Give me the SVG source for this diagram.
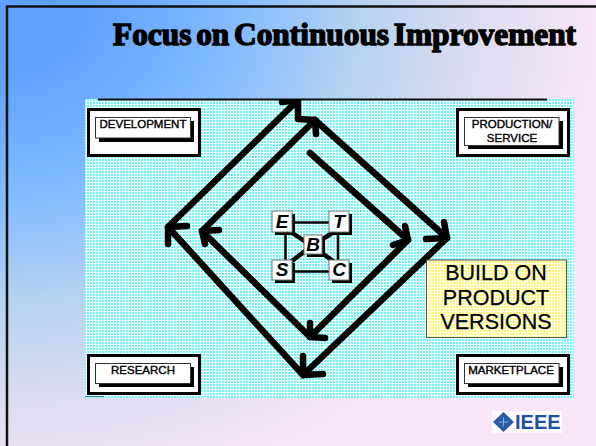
<svg xmlns="http://www.w3.org/2000/svg" width="596" height="446" viewBox="0 0 596 446">
<style>
text{font-family:"Liberation Sans",Arial,sans-serif;fill:#000}
.lab{font-size:11.5px;text-anchor:middle;stroke:#000;stroke-width:.4}
.let{font-size:19px;font-weight:bold;font-style:italic;text-anchor:middle}
.big{font-size:21.5px;text-anchor:middle;stroke:#000;stroke-width:.25}
.o{fill:#fff;stroke:#000;stroke-width:3}
.i{fill:#fff;stroke:#333;stroke-width:1}
.arrow{fill:none;stroke:#000;stroke-width:6.500;stroke-linecap:round;stroke-linejoin:round}
.thin{fill:none;stroke:#000;stroke-width:2.500}
.tk{fill:none;stroke:#000;stroke-width:4.500}
.sq{fill:#fff;stroke:#777;stroke-width:1}
</style>
<defs>
<radialGradient id="bg" gradientUnits="userSpaceOnUse" cx="0" cy="0" r="596" gradientTransform="scale(1 .84)">
<stop offset="0" stop-color="#5f9fff"/><stop offset=".15" stop-color="#62a2ff"/><stop offset=".4" stop-color="#84bcff"/><stop offset=".6" stop-color="#b5d2f0"/><stop offset=".8" stop-color="#dcdcf0"/><stop offset="1" stop-color="#f8e6f8"/>
</radialGradient>
<pattern id="grid" width="3" height="3" patternUnits="userSpaceOnUse">
<rect width="3" height="3" fill="#f0ffff"/><rect width="2" height="2" fill="#70f4f4"/>
</pattern>
<pattern id="ygrid" width="3" height="3" patternUnits="userSpaceOnUse">
<rect width="3" height="3" fill="#ffffe8"/><rect width="2" height="2" fill="#fff47a"/>
</pattern>
<clipPath id="panel"><rect x="85" y="99" width="489" height="299"/></clipPath>
</defs>
<rect width="596" height="446" fill="url(#bg)"/>
<path d="M7 446V6.500H596" fill="none" stroke="#111" stroke-width="2.500"/>
<text x="113" y="45" font-size="31" font-weight="bold" word-spacing="-3" textLength="463" lengthAdjust="spacingAndGlyphs" style="font-family:'Liberation Serif',serif;stroke:#000;stroke-width:1.400">Focus on Continuous Improvement</text>
<rect x="85" y="99" width="489" height="299" fill="url(#grid)"/>
<path d="M98 99.500H547" stroke="#111" stroke-width="2"/>
<path d="M85 396.500H104" stroke="#2a7a8a" stroke-width="1"/>
<g id="connectors">
<g clip-path="url(#panel)">
<path class="arrow" d="M310 153L408 240L310 337L202 231L315 120M447 238L315 120M447 238L303 375L168 227L298 100"/>
<path class="arrow" d="M282 102L298 100L298 119L315 120L316 134M393 245L408 240L405 226M325 338L310 337L310 323M219 230L202 231L205 244M426 239L447 238L444 222M323 374L303 375L303 356M187 226L168 227L168 244"/>
</g>
</g>
<g id="hub">
<path class="thin" d="M282 222.500H340M282 271.500H340M285.500 222V271M338 222V271"/>
<path class="tk" d="M285 228L312 246L340 228M285 266L312 246L340 266"/>
<rect x="275" y="214" width="20" height="21" fill="#000"/><rect x="332" y="214" width="20" height="21" fill="#000"/><rect x="307" y="238" width="18" height="19" fill="#000"/><rect x="275" y="263" width="20" height="20" fill="#000"/><rect x="332" y="263" width="20" height="20" fill="#000"/>
<g id="node-e"><rect class="sq" x="272" y="211" width="20" height="21"/><text class="let" x="282" y="228">E</text></g>
<g id="node-t"><rect class="sq" x="329" y="211" width="20" height="21"/><text class="let" x="339" y="228">T</text></g>
<g id="node-b"><rect class="sq" x="304" y="235" width="18" height="19"/><text class="let" x="313" y="251">B</text></g>
<g id="node-s"><rect class="sq" x="272" y="260" width="20" height="20"/><text class="let" x="282" y="276">S</text></g>
<g id="node-c"><rect class="sq" x="329" y="260" width="20" height="20"/><text class="let" x="339" y="276">C</text></g>
</g>
<g id="development"><rect class="o" x="88.500" y="109.500" width="111" height="46"/><rect x="99" y="121" width="95" height="21" fill="#000"/><rect class="i" x="95.500" y="117.500" width="95" height="20.500"/><text class="lab" x="143" y="128">DEVELOPMENT</text></g>
<g id="production"><rect class="o" x="457.500" y="109.500" width="111" height="46"/><rect x="468" y="121" width="95" height="28" fill="#000"/><rect class="i" x="464.500" y="117.500" width="94.500" height="28"/><text class="lab" x="512" y="128">PRODUCTION/</text><text class="lab" x="512" y="142">SERVICE</text></g>
<g id="research"><rect class="o" x="88.500" y="355.500" width="111" height="38"/><rect x="99" y="367" width="95" height="20" fill="#000"/><rect class="i" x="95.500" y="363.500" width="95" height="20"/><text class="lab" x="143" y="374">RESEARCH</text></g>
<g id="marketplace"><rect class="o" x="457.500" y="355.500" width="111" height="38"/><rect x="468" y="367" width="95" height="20" fill="#000"/><rect class="i" x="464.500" y="363.500" width="94.500" height="20"/><text class="lab" x="511" y="374">MARKETPLACE</text></g>
<g id="build"><rect x="426.500" y="260" width="140" height="77.500" fill="url(#ygrid)" stroke="#555"/><text class="big" x="496" y="280">BUILD ON</text><text class="big" x="496" y="304.500">PRODUCT</text><text class="big" x="496" y="329">VERSIONS</text></g>
<g id="logo"><rect x="492" y="411" width="70" height="22" fill="#fff" fill-opacity=".9"/><path d="M503.500 412L514 422L503.500 432L493 422Z" fill="#2a5aa8"/><path d="M499 422H508M503.500 417.500V426.500" stroke="#8fa8d8" stroke-width="1"/><text x="515" y="429" font-size="20" font-weight="bold" style="fill:#1f4f9f">IEEE</text></g>
</svg>
